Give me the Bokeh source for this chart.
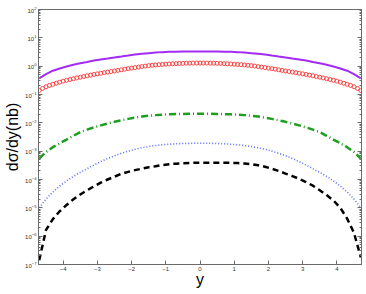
from bokeh.plotting import figure
from bokeh.models import LogAxis, FixedTicker, Range1d, CustomJSTickFormatter
from bokeh.embed import file_html
from bokeh.resources import INLINE

# ---- data ----
x_line = [-4.7, -4.5, -4.3, -4.1, -3.9, -3.7, -3.5, -3.3, -3.1, -2.9, -2.7, -2.5,
          -2.3, -2.1, -1.9, -1.7, -1.5, -1.3, -1.1, -0.9, -0.7, -0.5, -0.3, -0.1,
          0.1, 0.3, 0.5, 0.7, 0.9, 1.1, 1.3, 1.5, 1.7, 1.9, 2.1, 2.3, 2.5,
          2.7, 2.9, 3.1, 3.3, 3.5, 3.7, 3.9, 4.1, 4.3, 4.5, 4.7]

purple = [0.372, 0.525, 0.692, 0.832, 0.977, 1.12, 1.26, 1.41, 1.58, 1.72, 1.86, 2.04,
          2.19, 2.37, 2.57, 2.75, 2.88, 3.02, 3.13, 3.20, 3.26, 3.29, 3.31, 3.31,
          3.31, 3.31, 3.29, 3.26, 3.20, 3.13, 3.02, 2.88, 2.75, 2.57, 2.37, 2.19, 2.04,
          1.86, 1.72, 1.58, 1.41, 1.26, 1.12, 0.977, 0.832, 0.692, 0.525, 0.372]

green = [5.50e-4, 9.33e-4, 1.38e-3, 1.91e-3, 2.57e-3, 3.47e-3, 4.68e-3, 5.75e-3,
         6.92e-3, 8.13e-3, 9.44e-3, 1.084e-2, 1.230e-2, 1.380e-2, 1.531e-2, 1.660e-2,
         1.778e-2, 1.871e-2, 1.941e-2, 1.995e-2, 2.032e-2, 2.061e-2, 2.080e-2, 2.089e-2,
         2.089e-2, 2.080e-2, 2.061e-2, 2.032e-2, 1.995e-2, 1.941e-2, 1.871e-2, 1.778e-2,
         1.660e-2, 1.531e-2, 1.380e-2, 1.230e-2, 1.084e-2, 9.44e-3, 8.13e-3, 6.92e-3,
         5.75e-3, 4.68e-3, 3.47e-3, 2.57e-3, 1.91e-3, 1.38e-3, 9.33e-4, 5.50e-4]

blue = [1.00e-5, 2.04e-5, 3.63e-5, 5.89e-5, 8.91e-5, 1.29e-4, 1.78e-4, 2.40e-4,
        3.24e-4, 4.27e-4, 5.50e-4, 6.92e-4, 8.41e-4, 1.000e-3, 1.161e-3, 1.318e-3,
        1.462e-3, 1.578e-3, 1.679e-3, 1.758e-3, 1.820e-3, 1.862e-3, 1.892e-3, 1.905e-3,
        1.905e-3, 1.892e-3, 1.862e-3, 1.820e-3, 1.758e-3, 1.679e-3, 1.578e-3, 1.462e-3,
        1.318e-3, 1.161e-3, 1.000e-3, 8.41e-4, 6.92e-4, 5.50e-4, 4.27e-4, 3.24e-4,
        2.40e-4, 1.78e-4, 1.29e-4, 8.91e-5, 5.89e-5, 3.63e-5, 2.04e-5, 1.00e-5]

black = [1.41e-7, 1.66e-6, 3.98e-6, 7.59e-6, 1.26e-5, 2.00e-5, 2.95e-5, 4.17e-5,
         5.75e-5, 7.76e-5, 1.00e-4, 1.26e-4, 1.58e-4, 1.86e-4, 2.14e-4, 2.40e-4,
         2.69e-4, 2.95e-4, 3.24e-4, 3.47e-4, 3.63e-4, 3.76e-4, 3.85e-4, 3.89e-4,
         3.89e-4, 3.89e-4, 3.89e-4, 3.89e-4, 3.89e-4, 3.80e-4, 3.67e-4, 3.51e-4,
         3.16e-4, 2.82e-4, 2.40e-4, 2.00e-4, 1.62e-4, 1.32e-4, 1.05e-4, 8.13e-5,
         6.03e-5, 4.17e-5, 2.82e-5, 1.82e-5, 1.00e-5, 4.17e-6, 1.32e-6, 1.78e-7]

x_red = [-4.7, -4.6, -4.5, -4.4, -4.3, -4.2, -4.1, -4.0, -3.9, -3.8, -3.7, -3.6,
         -3.5, -3.4, -3.3, -3.2, -3.1, -3.0, -2.9, -2.8, -2.7, -2.6, -2.5, -2.4,
         -2.3, -2.2, -2.1, -2.0, -1.9, -1.8, -1.7, -1.6, -1.5, -1.4, -1.3, -1.2,
         -1.1, -1.0, -0.9, -0.8, -0.7, -0.6, -0.5, -0.4, -0.3, -0.2, -0.1, 0.0,
         0.1, 0.2, 0.3, 0.4, 0.5, 0.6, 0.7, 0.8, 0.9, 1.0, 1.1, 1.2,
         1.3, 1.4, 1.5, 1.6, 1.7, 1.8, 1.9, 2.0, 2.1, 2.2, 2.3, 2.4,
         2.5, 2.6, 2.7, 2.8, 2.9, 3.0, 3.1, 3.2, 3.3, 3.4, 3.5, 3.6,
         3.7, 3.8, 3.9, 4.0, 4.1, 4.2, 4.3, 4.4, 4.5, 4.6, 4.7]

red = [0.138, 0.164, 0.188, 0.209, 0.229, 0.250, 0.272, 0.295, 0.318, 0.339, 0.361, 0.384,
       0.407, 0.432, 0.457, 0.483, 0.511, 0.537, 0.562, 0.589, 0.617, 0.646, 0.676, 0.710,
       0.745, 0.782, 0.818, 0.855, 0.891, 0.929, 0.966, 1.005, 1.047, 1.074, 1.102, 1.127,
       1.153, 1.175, 1.197, 1.213, 1.230, 1.247, 1.259, 1.271, 1.276, 1.282, 1.288, 1.288,
       1.288, 1.282, 1.276, 1.271, 1.259, 1.247, 1.230, 1.213, 1.197, 1.175, 1.153, 1.127,
       1.102, 1.074, 1.047, 1.005, 0.966, 0.929, 0.891, 0.855, 0.818, 0.782, 0.745, 0.710,
       0.676, 0.646, 0.617, 0.589, 0.562, 0.537, 0.511, 0.483, 0.457, 0.432, 0.407, 0.384,
       0.361, 0.339, 0.318, 0.295, 0.272, 0.250, 0.229, 0.209, 0.188, 0.164, 0.138]

x_ticks = [-4, -3, -2, -1, 0, 1, 2, 3, 4]
y_exponents = [-7, -6, -5, -4, -3, -2, -1, 0, 1, 2]
x_title = "y"
y_title = "dσ/dy(nb)"

y_major = [10.0 ** e for e in y_exponents]
y_minor = [m * 10.0 ** e for e in y_exponents[:-1] for m in range(2, 10)]

AX = "#6a6a6a"
LAB = "#333333"

p = figure(width=366, height=294, y_axis_type="log",
           x_range=Range1d(-4.72, 4.72), y_range=Range1d(1e-7, 1e2),
           output_backend="svg", toolbar_location=None,
           min_border_left=38, min_border_right=5, min_border_top=9, min_border_bottom=30)
p.grid.visible = False
p.outline_line_color = AX
p.background_fill_color = "white"
p.border_fill_color = "white"

xa = p.xaxis[0]
xa.ticker = FixedTicker(ticks=x_ticks)
xa.minor_tick_line_color = None
xa.axis_line_color = AX
xa.major_tick_line_color = AX
xa.major_tick_in = 4
xa.major_tick_out = 0
xa.major_label_text_font = "Liberation Sans"
xa.major_label_text_color = LAB
xa.major_label_text_font_size = "6px"
xa.major_label_standoff = 2
xa.axis_label = x_title
xa.axis_label_text_font = "Liberation Sans"
xa.axis_label_text_font_style = "normal"
xa.axis_label_text_font_size = "16px"
xa.axis_label_text_color = "black"
xa.axis_label_standoff = -3

ya = p.yaxis[0]
ya.ticker = FixedTicker(ticks=y_major, minor_ticks=y_minor)
ya.axis_line_color = AX
ya.major_tick_line_color = AX
ya.minor_tick_line_color = AX
ya.major_tick_in = 4
ya.major_tick_out = 0
ya.minor_tick_in = 2
ya.minor_tick_out = 0
ya.major_label_text_font = "Liberation Sans"
ya.major_label_text_color = LAB
ya.major_label_text_font_size = "6px"
ya.major_label_standoff = 2
ya.axis_label = y_title
ya.axis_label_text_font = "Liberation Sans"
ya.axis_label_text_font_style = "normal"
ya.axis_label_text_font_size = "16px"
ya.axis_label_text_color = "black"
ya.axis_label_standoff = 1

right = LogAxis(ticker=FixedTicker(ticks=y_major, minor_ticks=y_minor),
                formatter=CustomJSTickFormatter(code="return ''"))
right.axis_line_color = AX
right.major_tick_line_color = AX
right.minor_tick_line_color = AX
right.major_tick_in = 4
right.major_tick_out = 0
right.minor_tick_in = 2
right.minor_tick_out = 0
right.major_label_standoff = 0
p.add_layout(right, "right")

p.line(x_line, purple, line_color="#a32cf5", line_width=2)
p.scatter(x_red, red, marker="circle", size=4, fill_color=None,
          line_color="#ff3838", line_width=0.9)
p.line(x_line, green, line_color="#1e9e1e", line_width=2.5, line_dash="7 3 1 3")
p.line(x_line, blue, line_color="#5a6cff", line_width=1.6, line_dash="1 2")
p.line(x_line, black, line_color="black", line_width=2.5, line_dash="6 4")

open("out.html", "w").write(file_html(p, INLINE))
